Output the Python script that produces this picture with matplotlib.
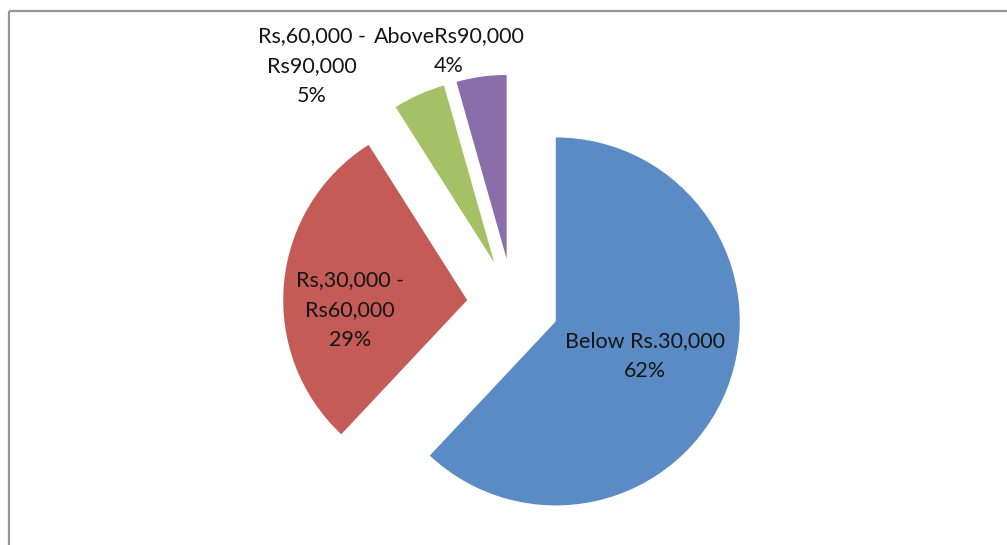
import matplotlib
matplotlib.use("Agg")
import matplotlib.pyplot as plt
from matplotlib.lines import Line2D

# ---- data ----
categories = ["Below Rs.30,000", "Rs,30,000 -\nRs60,000", "Rs,60,000 -\nRs90,000", "AboveRs90,000"]
values = [62.0, 29.0, 4.6, 4.4]
colors = ["#5B8BC5", "#C55B56", "#A4C166", "#8A6EAB"]

# ---- layout ----
W, H, DPI = 1007, 545, 100
cx_px, cy_px, r_px = 513, 304.5, 184
label_px = [(645, 356), (350, 310), (312, 66), (449, 51)]

fig = plt.figure(figsize=(W / DPI, H / DPI), dpi=DPI)
ax = fig.add_axes([0, 0, 1, 1])

wedges, _ = ax.pie(values, colors=colors, startangle=90, counterclock=False,
                   explode=[0.25] * len(values), radius=1.0, center=(0, 0),
                   wedgeprops=dict(linewidth=0))
ax.set_aspect("auto")
ax.set_xlim(-cx_px / r_px, (W - cx_px) / r_px)
ax.set_ylim((cy_px - H) / r_px, cy_px / r_px)
ax.axis("off")

total = sum(values)
for cat, v, (px, py) in zip(categories, values, label_px):
    x = (px - cx_px) / r_px
    y = (cy_px - py) / r_px
    ax.text(x, y, f"{cat}\n{100 * v / total:.0f}%", ha="center", va="center",
            multialignment="center", fontsize=15.5, family="Lato", color="#151515",
            linespacing=1.65)

# chart frame (left and top edges visible)
fig.add_artist(Line2D([9 / W, 9 / W], [0, 1 - 11 / H], color="#959595", lw=1.6,
                      transform=fig.transFigure, solid_capstyle="butt"))
fig.add_artist(Line2D([9 / W, 1], [1 - 11 / H, 1 - 11 / H], color="#959595", lw=1.6,
                      transform=fig.transFigure, solid_capstyle="butt"))

fig.savefig("out.png", dpi=DPI)
